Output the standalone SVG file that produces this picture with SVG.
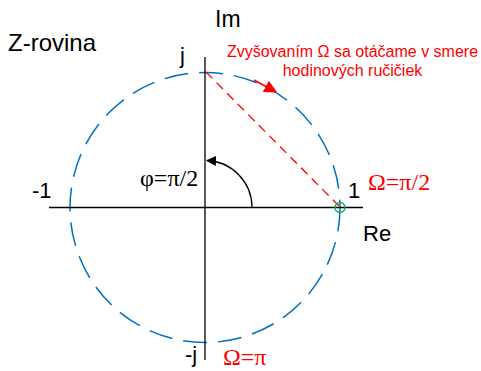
<svg xmlns="http://www.w3.org/2000/svg" width="481" height="371" viewBox="0 0 481 371">
<style>
.t{font-family:"Liberation Sans",Arial,sans-serif;fill:#000}
.s{font-family:"Liberation Serif","Times New Roman",serif}
.r{fill:#FF0000}
.ax{stroke:#000;stroke-width:1.3;fill:none}
</style>
<defs>
<marker id="ab" viewBox="0 0 10 10" refX="9" refY="5" markerWidth="10" markerHeight="10" markerUnits="userSpaceOnUse" orient="auto"><path d="M0,0 L10,5 L0,10 Z" fill="#000"/></marker>
<marker id="ar" viewBox="0 0 10 10" refX="9" refY="5" markerWidth="13" markerHeight="13" markerUnits="userSpaceOnUse" orient="auto"><path d="M0,0 L10,5 L0,10 Z" fill="#FF0000"/></marker>
</defs>
<rect width="481" height="371" fill="#fff"/>
<g id="unit-circle"><circle cx="205" cy="207.5" r="135" fill="none" stroke="#0070C0" stroke-width="1.5" stroke-dasharray="24 11"/></g>
<g id="axes">
<line class="ax" x1="49" y1="207.5" x2="363" y2="207.5"/>
<line class="ax" x1="205" y1="57" x2="205" y2="360"/>
</g>
<g id="connectors">
<line x1="206" y1="72" x2="339" y2="206" stroke="#FF0000" stroke-width="1.3" stroke-dasharray="9 6"/>
<path d="M252,207.5 A47,47 0 0 0 207,160.5" fill="none" stroke="#000" stroke-width="1.3" marker-end="url(#ab)"/>
<line x1="254" y1="80" x2="276" y2="92" stroke="#FF0000" stroke-width="1.6" marker-end="url(#ar)"/>
</g>
<g id="point"><circle cx="340" cy="207.5" r="5" fill="none" stroke="#00B050" stroke-width="1.3"/></g>
<g id="labels">
<text class="t" x="8" y="51" font-size="24">Z-rovina</text>
<text class="t" x="215" y="27" font-size="23">Im</text>
<text class="t" x="180" y="63" font-size="22">j</text>
<text class="t" x="32" y="198" font-size="22">-1</text>
<text class="t" x="348" y="198" font-size="22">1</text>
<text class="t" x="363" y="241" font-size="22">Re</text>
<text class="t" x="185" y="362" font-size="22">-j</text>
<text class="s" x="140" y="186" font-size="24">φ=π/2</text>
<text class="s r" x="368" y="190" font-size="24">Ω=π/2</text>
<text class="s r" x="223" y="365" font-size="24">Ω=π</text>
<text class="t r" x="352.5" y="57" font-size="16" text-anchor="middle">Zvyšovaním Ω sa otáčame v smere</text>
<text class="t r" x="352.5" y="76" font-size="16" text-anchor="middle">hodinových ručičiek</text>
</g>
</svg>
